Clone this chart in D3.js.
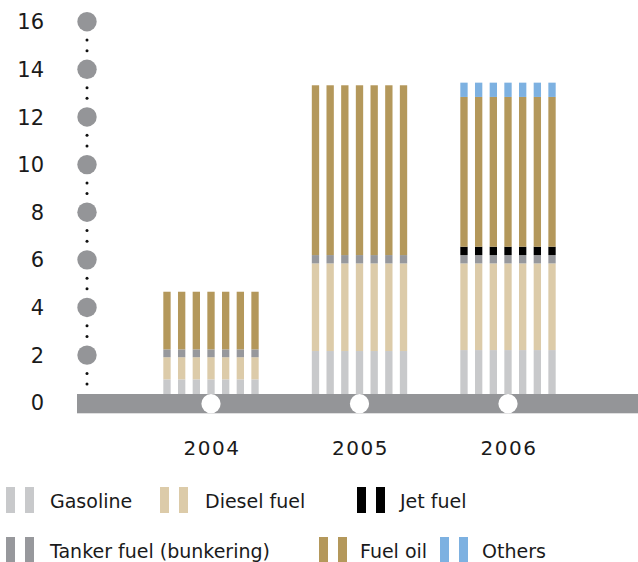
<!DOCTYPE html>
<html>
<head>
<meta charset="utf-8">
<script src="https://cdn.jsdelivr.net/npm/d3@7"></script>
<style>
  html, body { margin: 0; padding: 0; background: #fff; }
  svg { display: block; }
  text { font-family: "DejaVu Sans", Roboto, sans-serif; fill: #1a1a1a; }
</style>
</head>
<body>
<script>
// Oil product volumes by year, stacked from the bottom up
const years = ["2004", "2005", "2006"];
const fuels = ["Gasoline", "Diesel fuel", "Tanker fuel (bunkering)", "Jet fuel", "Fuel oil", "Others"];
const gasoline = [0.98, 2.17, 2.21];
const diesel   = [0.93, 3.68, 3.64];
const tanker   = [0.33, 0.35, 0.35];
const jet      = [0.00, 0.00, 0.35];
const fuelOil  = [2.42, 7.13, 6.29];
const others   = [0.00, 0.00, 0.60];
const yTicks   = [0, 2, 4, 6, 8, 10, 12, 14, 16];
// legend reading order: first row, then second row
const legendOrder = ["Gasoline", "Diesel fuel", "Jet fuel", "Tanker fuel (bunkering)", "Fuel oil", "Others"];

const seriesValues = [gasoline, diesel, tanker, jet, fuelOil, others];
const colors = ["#c8c9cb", "#dccba9", "#97989c", "#000000", "#b4985b", "#7db1e1"];

const W = 638, H = 562;
const svg = d3.select("body").append("svg").attr("width", W).attr("height", H);

const y = d3.scaleLinear().domain([0, 16]).range([402.7, 21.7]);
const x = d3.scaleBand().domain(years).range([136.75, 582.25]).padding(0);
// each year is drawn as a row of seven identical thin columns
const copies = d3.range(7);
const xi = d3.scaleBand().domain(copies).range([-51.35, 51.35]).paddingInner(0.5).paddingOuter(0.25);

const rows = years.map((yr, i) => {
  const r = { year: yr };
  fuels.forEach((f, k) => r[f] = seriesValues[k][i]);
  return r;
});
const stack = d3.stack().keys(fuels)(rows);
const color = d3.scaleOrdinal().domain(fuels).range(colors);

// stacked columns
const layers = svg.append("g").selectAll("g").data(stack).join("g").attr("fill", d => color(d.key));
layers.each(function (layer) {
  const segs = layer.filter(s => s[1] - s[0] > 0);
  d3.select(this).selectAll("g").data(segs).join("g")
    .attr("transform", s => `translate(${x(s.data.year) + x.bandwidth() / 2},0)`)
    .selectAll("rect").data(s => copies.map(c => ({ s, c }))).join("rect")
    .attr("x", d => xi(d.c))
    .attr("width", xi.bandwidth())
    .attr("y", d => y(d.s[1]))
    .attr("height", d => y(d.s[0]) - y(d.s[1]));
});

// baseline band with year markers
svg.append("rect").attr("x", 77).attr("y", 394).attr("width", W - 77).attr("height", 19.3).attr("fill", "#949598");
svg.append("g").selectAll("circle").data(years).join("circle")
  .attr("cx", d => x(d) + x.bandwidth() / 2).attr("cy", 403.7).attr("r", 9.6).attr("fill", "#fff");

// y axis: grey discs at ticks, dotted guide between them
const axisX = 87;
const axis = svg.append("g");
axis.selectAll("circle.tick").data(yTicks.filter(v => v > 0)).join("circle")
  .attr("class", "tick").attr("cx", axisX).attr("cy", v => y(v)).attr("r", 9.7).attr("fill", "#949598");
const dots = [];
yTicks.filter(v => v > 0).forEach(v => { dots.push(y(v) + 18.3, y(v) + 29); });
axis.selectAll("circle.dot").data(dots).join("circle")
  .attr("class", "dot").attr("cx", axisX).attr("cy", d => d).attr("r", 1.5).attr("fill", "#111");
axis.selectAll("text").data(yTicks).join("text")
  .attr("x", 44).attr("y", v => y(v)).attr("dy", "0.36em")
  .attr("text-anchor", "end").attr("font-size", 21)
  .text(d => d);

// year labels
svg.append("g").selectAll("text").data(years).join("text")
  .attr("x", d => x(d) + x.bandwidth() / 2 + 1).attr("y", 455)
  .attr("text-anchor", "middle").attr("font-size", 20).attr("letter-spacing", 1.5).text(d => d);

// legend
const legendPos = [[6, 487], [160, 487], [357, 487], [6, 537], [319, 537], [440, 537]];
const textOffset = [44, 45, 43, 44, 41, 42];
const lg = svg.append("g").selectAll("g").data(legendOrder).join("g")
  .attr("transform", (d, i) => `translate(${legendPos[i][0]},${legendPos[i][1]})`);
lg.selectAll("rect").data(d => [0, 19].map(o => ({ d, o }))).join("rect")
  .attr("x", e => e.o).attr("y", 0).attr("width", 9).attr("height", 26)
  .attr("fill", e => color(e.d));
lg.append("text").attr("x", (d, i) => textOffset[i]).attr("y", 21)
  .attr("font-size", 19).text(d => d);
</script>
</body>
</html>
